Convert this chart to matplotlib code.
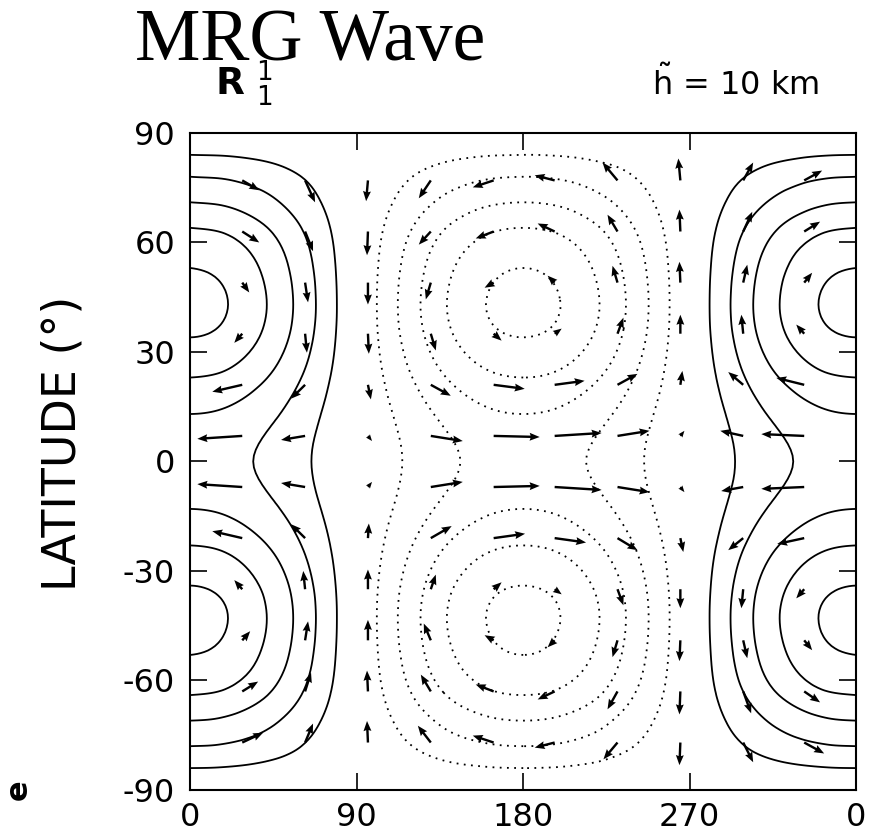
import numpy as np
import matplotlib
matplotlib.use("Agg")
import matplotlib.pyplot as plt
import matplotlib.tri as mtri

plt.rcParams["axes.unicode_minus"] = False
plt.rcParams["mathtext.fontset"] = "dejavusans"

# height field, read at lon 0 where the contours (interval 1) cut the frame
prof_lat = [-90, -84, -78, -71, -64, -53, -43, -34, -23, -13, 0,
            13, 23, 34, 43, 53, 64, 71, 78, 84, 90]
prof_val = [0, 1, 2, 3, 4, 5, 5.3, 5, 4, 3, 2.4,
            3, 4, 5, 5.3, 5, 4, 3, 2, 1, 0]

# zonal structure of the wave (one wave round the globe)
zon_lon = [0, 15, 30, 45, 60, 75, 90, 105, 120, 135, 150, 165, 180,
           195, 210, 225, 240, 255, 270, 285, 300, 315, 330, 345, 360]
zon_val = [1, .97, .87, .71, .5, .26, 0, -.26, -.5, -.71, -.87, -.97, -1,
           -.97, -.87, -.71, -.5, -.26, 0, .26, .5, .71, .87, .97, 1]

levels_pos = [1, 2, 3, 4, 5]
levels_neg = [-5, -4, -3, -2, -1]

# wind arrows: tail positions and tip offsets (deg lon, deg lat)
arrow_lon = [28, 62, 96, 130, 164, 197, 231, 265, 299, 332]
arrow_lat = [77, 63, 49, 35, 21, 7, -7, -21, -35, -49, -63, -77]
u = [
    [9.2, 5.4, -1.0, -6.5, -11.3, -10.8, -8.1, -1.1, 5.4, 9.7],
    [9.2, 4.3, -0.5, -6.5, -9.7, -9.2, -5.4, -0.5, 4.9, 8.6],
    [3.8, 1.6, 0.0, -2.7, -4.9, -3.8, -2.7, -0.5, 2.2, 4.3],
    [-4.3, 1.0, 0.5, 2.7, 4.3, 3.8, 3.2, 0.0, -1.0, -4.3],
    [-16.2, -7.6, 1.6, 10.8, 16.8, 16.2, 10.8, 1.1, -8.1, -15.1],
    [-24.3, -13.0, 2.2, 17.3, 24.9, 25.4, 17.3, 2.2, -12.4, -23.2],
    [-24.3, -13.0, 2.2, 17.3, 24.9, 25.4, 17.3, 2.2, -11.9, -23.2],
    [-16.2, -7.6, 0.5, 11.3, 17.0, 17.0, 10.8, 1.6, -8.1, -14.6],
    [-4.3, -1.0, 0.0, 2.7, 4.3, 3.8, 3.2, 0.0, -1.0, -4.3],
    [4.3, 1.6, 0.0, -3.8, -4.9, -3.8, -2.7, -0.5, 2.2, 4.3],
    [8.6, 3.2, -0.5, -5.4, -9.7, -9.2, -5.4, -0.5, 4.3, 8.6],
    [11.3, 4.3, -0.5, -7.0, -11.3, -10.8, -7.6, -0.5, 5.4, 10.8],
]
v = [
    [-2.7, -6.0, -5.7, -4.9, -1.9, 1.4, 4.9, 6.0, 4.9, 2.7],
    [-3.0, -5.4, -6.5, -3.6, -1.9, 2.2, 4.6, 6.0, 5.4, 2.7],
    [-2.7, -5.4, -6.0, -4.6, -1.4, 1.9, 4.6, 5.7, 4.9, 2.7],
    [-2.5, -5.2, -5.5, -4.6, -1.9, 1.4, 4.4, 5.2, 5.2, 2.5],
    [-1.9, -3.8, -4.0, -3.0, -1.1, 1.1, 3.0, 3.8, 3.5, 1.9],
    [-0.8, -1.1, -1.4, -1.4, -0.3, 0.8, 1.4, 1.4, 1.4, 0.5],
    [0.8, 1.1, 1.4, 1.4, 0.3, -0.8, -1.4, -1.4, -1.1, -0.5],
    [1.9, 3.8, 4.0, 3.3, 1.2, -1.2, -3.3, -3.8, -3.3, -1.6],
    [2.5, 5.0, 5.4, 4.0, 1.9, -1.4, -4.4, -5.2, -5.2, -2.5],
    [2.5, 5.2, 5.6, 4.6, 1.4, -1.9, -4.6, -5.7, -4.9, -2.7],
    [2.7, 5.2, 5.7, 4.6, 1.9, -2.2, -4.9, -6.3, -6.0, -3.0],
    [2.7, 5.2, 5.9, 4.6, 1.9, -1.4, -4.6, -6.2, -5.4, -3.0],
]

fig = plt.figure(figsize=(8.69, 8.32), dpi=100)
ax = fig.add_axes([0.2192, 0.0505, 0.7658, 0.7897])

# build the field table from the two profiles and smooth it with the triangle refiner
lon_g, lat_g = np.meshgrid(zon_lon, prof_lat)
field = np.outer(prof_val, zon_val)
tri = mtri.Triangulation(lon_g.ravel(), lat_g.ravel())
tri_f, field_f = mtri.UniformTriRefiner(tri).refine_field(field.ravel(), subdiv=3)

ax.tricontour(tri_f, field_f, levels=levels_pos, colors="k",
              linewidths=1.3, linestyles="solid")
ax.tricontour(tri_f, field_f, levels=levels_neg, colors="k",
              linewidths=1.3, linestyles=[(0, (1, 3))])

alon, alat = np.meshgrid(arrow_lon, arrow_lat)
ax.quiver(alon, alat, np.array(u), np.array(v), angles="xy", scale_units="xy",
          scale=1, width=0.0036, headwidth=3.3, headlength=4.2,
          headaxislength=3.8, color="k", zorder=3)

ax.set_xlim(0, 360)
ax.set_ylim(-90, 90)
ax.set_xticks([0, 90, 180, 270, 360])
ax.set_xticklabels(["0", "90", "180", "270", "0"])
ax.set_yticks([-90, -60, -30, 0, 30, 60, 90])
ax.set_yticklabels(["-90", "-60", "-30", "0", "30", "60", "90"])
ax.tick_params(direction="in", top=True, right=True, length=12, width=1.2,
               labelsize=23)
ax.tick_params(axis="y", pad=11)
ax.tick_params(axis="x", pad=9)
for s in ax.spines.values():
    s.set_linewidth(1.5)

fig.text(63 / 869, 1 - 443 / 832, "LATITUDE (°)", rotation=90, fontsize=33,
         ha="center", va="center")

fig.text(135 / 869, 1 - 60 / 832, "MRG Wave", family="Liberation Serif",
         fontsize=53, va="baseline")
fig.text(215 / 869, 1 - 95 / 832, r"$\mathbf{R}\,\,{}_{1}^{1}$", fontsize=27,
         va="baseline")
fig.text(652 / 869, 1 - 95 / 832, r"$\tilde{\mathrm{h}}$ = 10 km", fontsize=23,
         va="baseline")
fig.text(18 / 869, 1 - 790 / 832, "e", fontsize=22, fontweight="bold",
         rotation=90, ha="center", va="center")

fig.savefig("out.png", dpi=100)
